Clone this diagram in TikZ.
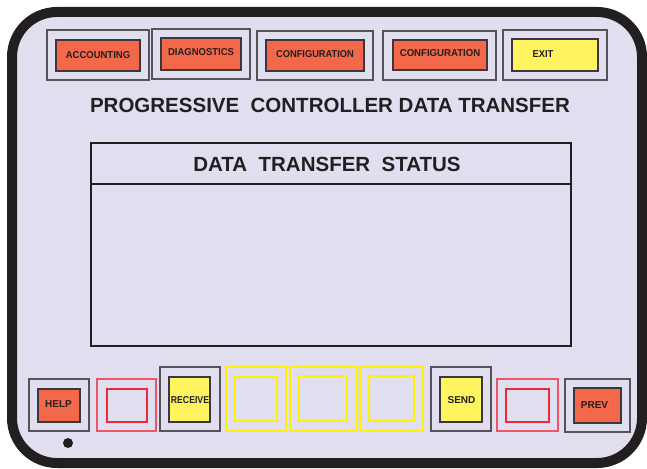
\documentclass[tikz,border=0pt]{standalone}
\usepackage{fontspec}
\setmainfont{Liberation Sans}
\definecolor{bg}{HTML}{E1DEEF}
\definecolor{framec}{HTML}{231F20}
\definecolor{btnorange}{HTML}{F26849}
\definecolor{btnyellow}{HTML}{FFF35F}
\definecolor{outerline}{HTML}{55525A}
\definecolor{innerline}{HTML}{3A383E}
\definecolor{redline}{HTML}{EE2A3A}
\definecolor{pinkline}{HTML}{EA5665}
\definecolor{yelline}{HTML}{FFF200}
\tikzset{
  box/.style={rectangle, inner sep=0pt, anchor=center},
  outerbox/.style={box, draw=outerline, line width=1.2pt},
  orangekey/.style={box, draw=innerline, line width=1.4pt, fill=btnorange},
  yellowkey/.style={box, draw=innerline, line width=1.4pt, fill=btnyellow},
  redouter/.style={box, draw=pinkline, line width=1.1pt},
  redinner/.style={box, draw=redline, line width=1.1pt},
  yelouter/.style={box, draw=yelline, line width=1.1pt},
  yelinner/.style={box, draw=yelline, line width=1.1pt},
  keylabel/.style={inner sep=0pt, anchor=center, text=framec, font=\fontsize{10}{11}\selectfont\bfseries},
  titlelabel/.style={inner sep=0pt, anchor=center, text=framec, font=\fontsize{20.5}{22}\selectfont\bfseries},
  statusbox/.style={box, draw=framec, line width=2.5pt},
}
\begin{document}
\begin{tikzpicture}[x=1pt,y=-1pt]
\useasboundingbox (0,0) rectangle (647,468);
\fill[white] (0,0) rectangle (647,468);
% outer frame
\draw[draw=framec, fill=bg, line width=10pt, rounded corners=45pt] (12,12) rectangle (642,463);

% top keys
\node[outerbox, minimum width=102pt, minimum height=50pt] (accO) at (98,55) {};
\node[orangekey, minimum width=84pt, minimum height=31pt] (accI) at (98,55.5) {};
\node[keylabel] (accT) at (98,55) {\scalebox{0.95}[1]{ACCOUNTING}};

\node[outerbox, minimum width=98pt, minimum height=50pt] (diaO) at (201,54) {};
\node[orangekey, minimum width=80pt, minimum height=32pt] (diaI) at (201,54) {};
\node[keylabel] (diaT) at (201,52) {\scalebox{0.95}[1]{DIAGNOSTICS}};

\node[outerbox, minimum width=116pt, minimum height=49pt] (cf1O) at (315,55.5) {};
\node[orangekey, minimum width=98pt, minimum height=31pt] (cf1I) at (315,55.5) {};
\node[keylabel] (cf1T) at (315,54.5) {\scalebox{0.93}[1]{CONFIGURATION}};

\node[outerbox, minimum width=113pt, minimum height=49pt] (cf2O) at (439.5,55.5) {};
\node[orangekey, minimum width=94pt, minimum height=30pt] (cf2I) at (440,55) {};
\node[keylabel] (cf2T) at (440,53.3) {\scalebox{0.96}[1]{CONFIGURATION}};

\node[outerbox, minimum width=104pt, minimum height=50pt] (exO) at (555,55) {};
\node[yellowkey, minimum width=86pt, minimum height=32pt] (exI) at (555,55) {};
\node[keylabel] (exT) at (543,54) {\scalebox{0.93}[1]{EXIT}};

% title
\node[titlelabel] (title) at (330,105) {PROGRESSIVE\ \ CONTROLLER DATA TRANSFER};

% status box
\node[statusbox, minimum width=480pt, minimum height=41pt] (stHead) at (331,163.5) {};
\node[statusbox, minimum width=480pt, minimum height=162pt] (stBody) at (331,265) {};
\node[titlelabel] (stT) at (327,164) {DATA\ \ TRANSFER\ \ STATUS};

% bottom keys
\node[outerbox, minimum width=60pt, minimum height=52pt] (hlO) at (59,405) {};
\node[orangekey, minimum width=42pt, minimum height=33pt] (hlI) at (59,405.5) {};
\node[keylabel] (hlT) at (58.5,404) {HELP};

\node[redouter, minimum width=59pt, minimum height=52pt] (r1O) at (126.5,405) {};
\node[redinner, minimum width=40pt, minimum height=33pt] (r1I) at (127,405.5) {};

\node[outerbox, minimum width=60pt, minimum height=64pt] (rcO) at (190,399) {};
\node[yellowkey, minimum width=41pt, minimum height=45pt] (rcI) at (189.5,399.5) {};
\node[keylabel] (rcT) at (190,400) {\scalebox{0.87}[1]{RECEIVE}};

\node[yelouter, minimum width=60pt, minimum height=64pt] (y1O) at (256,399) {};
\node[yelinner, minimum width=42pt, minimum height=44pt] (y1I) at (256,399) {};

\node[yelouter, minimum width=67pt, minimum height=64pt] (y2O) at (323.5,399) {};
\node[yelinner, minimum width=48pt, minimum height=45pt] (y2I) at (323,398.5) {};

\node[yelouter, minimum width=63pt, minimum height=64pt] (y3O) at (391.5,399) {};
\node[yelinner, minimum width=45pt, minimum height=45pt] (y3I) at (391.5,398.5) {};

\node[outerbox, minimum width=60pt, minimum height=64pt] (sdO) at (461,399) {};
\node[yellowkey, minimum width=42pt, minimum height=45pt] (sdI) at (461,399.5) {};
\node[keylabel] (sdT) at (461.5,400) {SEND};

\node[redouter, minimum width=61pt, minimum height=52pt] (r2O) at (527.5,405) {};
\node[redinner, minimum width=43pt, minimum height=33pt] (r2I) at (527.5,405.5) {};

\node[outerbox, minimum width=65pt, minimum height=53pt] (pvO) at (597.5,405.5) {};
\node[orangekey, minimum width=47pt, minimum height=35pt] (pvI) at (597.5,405.5) {};
\node[keylabel] (pvT) at (594.5,405.5) {PREV};

% dot
\node[circle, fill=framec, inner sep=0pt, minimum size=10pt] (dot) at (68,443) {};
\end{tikzpicture}
\end{document}
